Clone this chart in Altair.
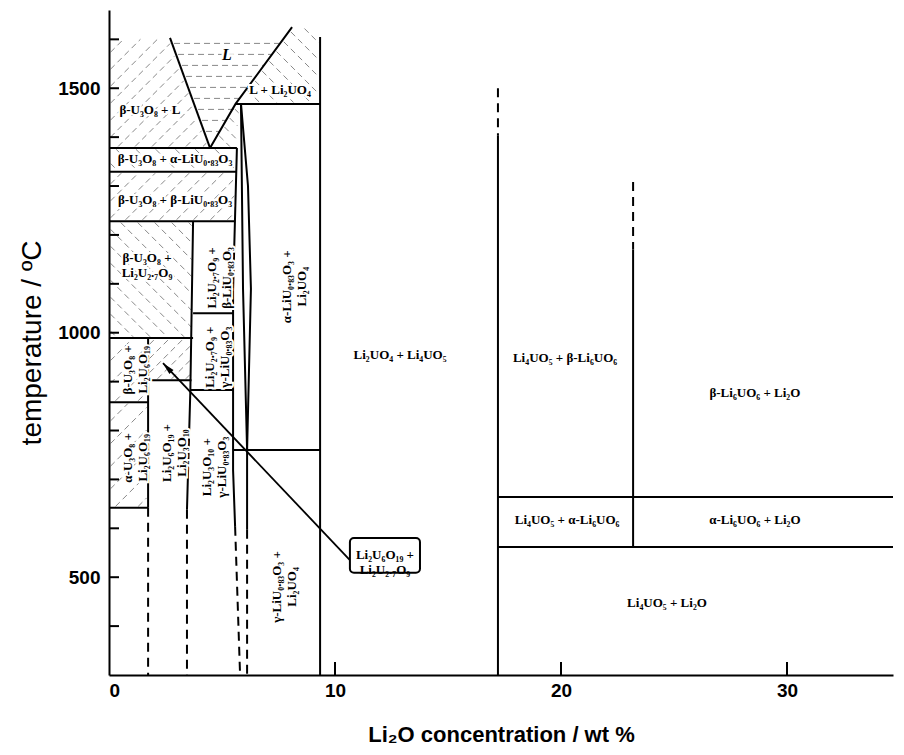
import math
import altair as alt
import pandas as pd

# ---------------- axis ranges and ticks ----------------
X_MAX = 34.69
T_MIN, T_MAX = 300, 1660
x_tick_labels = [0, 10, 20, 30]
y_tick_labels = [500, 1000, 1500]
y_ticks = [400, 500, 600, 700, 800, 900, 1000, 1100, 1200, 1300, 1400, 1500, 1600]
x_ticks = [10, 20, 30]

# ---------------- phase boundaries (wt% Li2O, temperature °C) ----------------
solid_lines = {
    "left_liquidus": [(2.70, 1603), (4.47, 1378)],
    "right_liquidus": [(4.47, 1378), (5.60, 1468), (8.10, 1625)],
    "peritectic_1468": [(5.60, 1468), (9.34, 1468)],
    "li2uo4": [(9.34, 1605), (9.34, 300)],
    "h1378": [(0, 1378), (5.66, 1378)],
    "h1329": [(0, 1329), (5.66, 1329)],
    "h1228": [(0, 1228), (5.55, 1228)],
    "h1040": [(3.72, 1040), (5.49, 1040)],
    "h989": [(0, 989), (3.72, 989)],
    "h903": [(1.73, 903), (3.65, 903)],
    "h883": [(3.62, 883), (5.49, 883)],
    "h858": [(0, 858), (1.73, 858)],
    "h642": [(0, 642), (1.73, 642)],
    "h760": [(5.49, 760), (9.34, 760)],
    "v173": [(1.73, 989), (1.73, 642)],
    "v372": [(3.72, 1228), (3.60, 883), (3.45, 638)],
    "lens_left": [(5.84, 1468), (5.93, 1090), (6.11, 760)],
    "lens_right": [(5.84, 1468), (6.15, 1300), (6.28, 1090), (6.11, 760)],
    "l1": [(5.66, 1378), (5.49, 1087), (5.49, 719), (5.58, 603)],
    "v611": [(6.11, 760), (6.11, 597)],
    "li4uo5": [(17.21, 1404), (17.21, 300)],
    "li6uo6": [(23.19, 1170), (23.19, 562)],
    "h664": [(17.21, 664), (X_MAX, 664)],
    "h562": [(17.21, 562), (X_MAX, 562)],
}
dashed_lines = {
    "v173d": [(1.73, 642), (1.73, 300)],
    "v345d": [(3.45, 638), (3.45, 300)],
    "l1d": [(5.58, 603), (5.80, 300)],
    "v611d": [(6.11, 597), (6.11, 300)],
    "li4uo5d": [(17.21, 1500), (17.21, 1404)],
    "li6uo6d": [(23.19, 1308), (23.19, 1170)],
}

# hatched (two-phase with liquid / uncertain) regions
hatch_regions = [
    ([(0, 1378), (4.47, 1378), (2.70, 1603), (0, 1603)], "/", 12),
    ([(2.70, 1603), (4.47, 1378), (7.78, 1603)], "-", 11),
    ([(5.60, 1468), (9.34, 1468), (9.34, 1625), (8.10, 1625)], "\\", 12),
    ([(4.47, 1378), (5.66, 1378), (5.84, 1468), (5.60, 1468)], "\\", 10),
    ([(0, 1329), (5.66, 1329), (5.66, 1378), (0, 1378)], "\\", 14),
    ([(0, 1228), (5.55, 1228), (5.66, 1329), (0, 1329)], "/", 12),
    ([(0, 989), (3.72, 989), (3.72, 1228), (0, 1228)], "\\", 12),
    ([(0, 858), (1.73, 858), (1.73, 989), (0, 989)], "/", 16),
    ([(1.73, 903), (3.65, 903), (3.72, 989), (1.73, 989)], "/", 10),
    ([(0, 642), (1.73, 642), (1.73, 858), (0, 858)], "/", 16),
]

# region labels: text, x, T, angle
liquid_label = ("L", 5.22, 1568)
labels = [
    ("β-U₃O₈ + L", 1.81, 1455, 0),
    ("L + Li₂UO₄", 7.57, 1496, 0),
    ("β-U₃O₈ + α-LiU₀.₈₃O₃", 2.92, 1355, 0),
    ("β-U₃O₈ + β-LiU₀.₈₃O₃", 2.92, 1271, 0),
    ("β-U₃O₈ +\nLi₂U₂.₇O₉", 1.68, 1153, 0),
    ("Li₂U₂.₇O₉ +\nβ-LiU₀.₈₃O₃", 4.56, 1112, 270),
    ("Li₂U₂.₇O₉ +\nγ-LiU₀.₈₃O₃", 4.47, 950, 270),
    ("β-U₃O₈ +\nLi₂U₆O₁₉", 0.84, 924, 270),
    ("α-U₃O₈ +\nLi₂U₆O₁₉", 0.84, 744, 270),
    ("Li₂U₆O₁₉ +\nLi₂U₃O₁₀", 2.57, 754, 270),
    ("Li₂U₃O₁₀ +\nγ-LiU₀.₈₃O₃", 4.34, 725, 270),
    ("α-LiU₀.₈₃O₃ +\nLi₂UO₄", 7.88, 1094, 270),
    ("γ-LiU₀.₈₃O₃ +\nLi₂UO₄", 7.43, 480, 270),
    ("Li₂UO₄ + Li₄UO₅", 12.88, 955, 0),
    ("Li₄UO₅ + β-Li₆UO₆", 20.18, 948, 0),
    ("β-Li₆UO₆ + Li₂O", 28.58, 877, 0),
    ("Li₄UO₅ + α-Li₆UO₆", 20.27, 617, 0),
    ("α-Li₆UO₆ + Li₂O", 28.58, 617, 0),
    ("Li₄UO₅ + Li₂O", 24.69, 447, 0),
]

# callout box and arrow
callout_text = "Li₂U₆O₁₉ +\nLi₂U₂.₇O₉"
callout_box = (10.66, 13.76, 580, 509)
callout_center = (12.21, 545)
arrow_line = [(10.66, 535), (2.39, 938)]
arrow_head = (2.57, 929)

# ---------------- helpers ----------------
SX, SY = 22.6, 0.489  # approx px per unit, used only for hatch geometry


def hatch_segments(poly, kind, spacing):
    pts = [(x * SX, t * SY) for x, t in poly]
    r = 1 / math.sqrt(2)
    d = (r, r) if kind == "/" else ((r, -r) if kind == "\\" else (1.0, 0.0))
    n = (-d[1], d[0])
    proj = [n[0] * p[0] + n[1] * p[1] for p in pts]
    segs = []
    c = min(proj) + spacing / 2
    while c < max(proj):
        ts = []
        m = len(pts)
        for i in range(m):
            a, b = pts[i], pts[(i + 1) % m]
            na = n[0] * a[0] + n[1] * a[1]
            nb = n[0] * b[0] + n[1] * b[1]
            if abs(nb - na) < 1e-9:
                continue
            s = (c - na) / (nb - na)
            if 0 <= s <= 1:
                px = a[0] + s * (b[0] - a[0])
                py = a[1] + s * (b[1] - a[1])
                ts.append(d[0] * px + d[1] * py)
        if len(ts) >= 2:
            t0, t1 = min(ts) + 2, max(ts) - 2
            if t1 - t0 > 3:
                p0 = (c * n[0] + t0 * d[0], c * n[1] + t0 * d[1])
                p1 = (c * n[0] + t1 * d[0], c * n[1] + t1 * d[1])
                segs.append([(p0[0] / SX, p0[1] / SY), (p1[0] / SX, p1[1] / SY)])
        c += spacing
    return segs


def lines_df(lines):
    rows = []
    for name, pts in lines.items():
        for i, (x, t) in enumerate(pts):
            rows.append({"seg": name, "i": i, "x": x, "T": t})
    return pd.DataFrame(rows)


hatch = {}
k = 0
for poly, kind, sp in hatch_regions:
    for seg in hatch_segments(poly, kind, sp):
        hatch[f"h{k}"] = seg
        k += 1

solid_df = lines_df(solid_lines)
dashed_df = lines_df(dashed_lines)
hatch_df = lines_df(hatch)
arrow_df = lines_df({"arrow": arrow_line})
lab_df = pd.DataFrame(labels, columns=["text", "x", "T", "ang"])

LABEL_FONT = "Liberation Serif, DejaVu Serif, serif"

xs = alt.Scale(domain=[0, X_MAX], nice=False, zero=False)
ys = alt.Scale(domain=[T_MIN, T_MAX], nice=False, zero=False)
x_axis = alt.Axis(values=x_tick_labels, title="Li₂O concentration / wt %", ticks=False,
                  grid=False, labelPadding=6, titlePadding=24, format="d",
                  titleFontWeight="bold", titleFontSize=22)
y_axis = alt.Axis(values=y_tick_labels, title="temperature / ºC", ticks=False,
                  grid=False, labelPadding=9, titlePadding=11, format="d",
                  titleFontWeight="normal", titleFontSize=28)
X = alt.X("x:Q", scale=xs, axis=x_axis)
Y = alt.Y("T:Q", scale=ys, axis=y_axis)

hatch_layer = alt.Chart(hatch_df).mark_line(color="#555555", strokeWidth=0.7,
                                             strokeDash=[6, 4]).encode(
    x=X, y=Y, detail="seg:N", order="i:Q")
solid_layer = alt.Chart(solid_df).mark_line(color="black", strokeWidth=2).encode(
    x=X, y=Y, detail="seg:N", order="i:Q")
dashed_layer = alt.Chart(dashed_df).mark_line(color="black", strokeWidth=2,
                                               strokeDash=[9, 6]).encode(
    x=X, y=Y, detail="seg:N", order="i:Q")
arrow_layer = alt.Chart(arrow_df).mark_line(color="black", strokeWidth=1.8).encode(
    x=X, y=Y, detail="seg:N", order="i:Q")
head_layer = alt.Chart(pd.DataFrame([{"x": arrow_head[0], "T": arrow_head[1]}])).mark_point(
    shape="M0,-1L0.45,1L-0.45,1Z", size=160, filled=True, color="black", opacity=1,
    angle=316).encode(x=X, y=Y)

box_df = pd.DataFrame([{"x": callout_box[0], "x2": callout_box[1],
                        "T": callout_box[2], "T2": callout_box[3]}])
box_layer = alt.Chart(box_df).mark_rect(fill="white", stroke="black", strokeWidth=2,
                                        cornerRadius=4).encode(
    x=X, x2="x2:Q", y=Y, y2="T2:Q")
callout_df = pd.DataFrame([{"text": callout_text, "x": callout_center[0], "T": callout_center[1]}])
callout_layer = alt.Chart(callout_df).mark_text(
    font=LABEL_FONT, fontWeight="bold", fontSize=13, lineBreak="\n",
    lineHeight=15, color="black").encode(x=X, y=Y, text="text:N")

halo_layer = alt.Chart(lab_df).mark_text(
    font=LABEL_FONT, fontWeight="bold", fontSize=13, lineBreak="\n",
    lineHeight=15, color="white", stroke="white", strokeWidth=4).encode(
    x=X, y=Y, text="text:N", angle=alt.Angle("ang:Q", scale=None))
text_layer = alt.Chart(lab_df).mark_text(
    font=LABEL_FONT, fontWeight="bold", fontSize=13, lineBreak="\n",
    lineHeight=15, color="black").encode(
    x=X, y=Y, text="text:N", angle=alt.Angle("ang:Q", scale=None))
liq_df = pd.DataFrame([{"text": liquid_label[0], "x": liquid_label[1], "T": liquid_label[2]}])
liq_halo = alt.Chart(liq_df).mark_text(
    font=LABEL_FONT, fontWeight="bold", fontStyle="italic", fontSize=16,
    color="white", stroke="white", strokeWidth=5).encode(x=X, y=Y, text="text:N")
liq_layer = alt.Chart(liq_df).mark_text(
    font=LABEL_FONT, fontWeight="bold", fontStyle="italic", fontSize=16,
    color="black").encode(x=X, y=Y, text="text:N")

ytick_layer = alt.Chart(pd.DataFrame({"T": y_ticks})).mark_rule(
    color="black", strokeWidth=2).encode(y=Y, x=alt.value(0), x2=alt.value(10))
xtick_layer = alt.Chart(pd.DataFrame({"x": x_ticks})).mark_rule(
    color="black", strokeWidth=2).encode(x=X, y=alt.value(652), y2=alt.value(665))

chart = alt.layer(
    hatch_layer, solid_layer, dashed_layer, arrow_layer, head_layer, box_layer,
    callout_layer, halo_layer, text_layer, liq_halo, liq_layer, ytick_layer, xtick_layer
).properties(
    width=784, height=665,
    autosize=alt.AutoSizeParams(type="none"),
    padding={"left": 101, "top": 2, "right": 3, "bottom": 70},
).configure_view(strokeWidth=0).configure_axis(
    domainColor="black", domainWidth=2,
    labelFont="Liberation Sans", labelFontWeight="bold", labelFontSize=19,
    labelColor="black", titleFont="Liberation Sans", titleColor="black"
)

chart.save("out.html", embed_options={"renderer": "svg", "actions": False})
